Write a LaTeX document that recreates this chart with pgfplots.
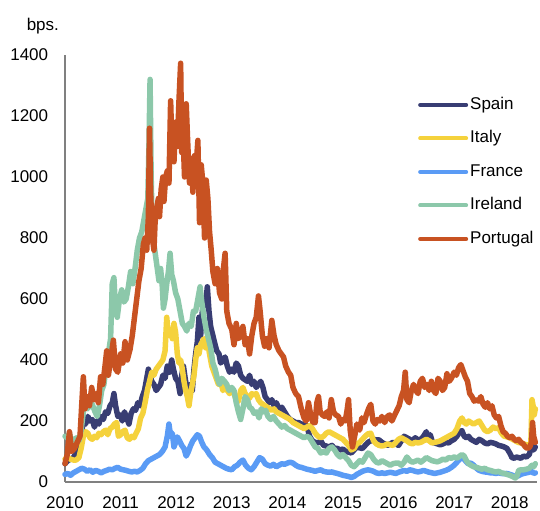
\documentclass[border=0pt]{standalone}
\usepackage{pgfplots}
\pgfplotsset{compat=1.18}
\usepackage{fontspec}
\setmainfont{Liberation Sans}
\definecolor{cSpain}{HTML}{383D73}
\definecolor{cItaly}{HTML}{F5D23C}
\definecolor{cFrance}{HTML}{5A9BF5}
\definecolor{cIreland}{HTML}{8CC8AA}
\definecolor{cPortugal}{HTML}{C85222}
\definecolor{axgray}{HTML}{808080}
\begin{document}
\fontsize{17bp}{20bp}\selectfont
\begin{tikzpicture}
\begin{axis}[
  scale only axis, width=472bp, height=427bp,
  xmin=2010, xmax=2018.49, ymin=0, ymax=1400,
  axis x line*=bottom, axis y line*=left,
  axis line style={axgray, line width=1.5bp, -},
  xtick={2010,2011,2012,2013,2014,2015,2016,2017,2018},
  ytick={0,200,400,600,800,1000,1200,1400},
  major tick length=0pt,
  /pgf/number format/assume math mode=true,
  x tick label style={/pgf/number format/1000 sep={}, yshift=-9bp},
  y tick label style={/pgf/number format/1000 sep={}, xshift=-11bp},
  ticklabel style={font=\fontsize{17bp}{20bp}\selectfont},
  clip=false,
  every axis plot/.append style={line width=5.5bp, line join=round, line cap=round},
  legend style={at={(0.7415,0.911)}, anchor=north west, draw=none, fill=none,
    font=\fontsize{17bp}{20bp}\selectfont, row sep=14bp,
    nodes={inner sep=2bp, text height=12bp, text depth=3.5bp}},
  legend cell align=left,
  legend image code/.code={\draw[#1, line width=4bp] (0bp,0bp) -- (46bp,0bp);},
]
\coordinate (SW) at (rel axis cs:0,0);
\coordinate (NE) at (rel axis cs:1,1);
\node at (rel axis cs:-0.047,1.068) {bps.};
% Spain
\addplot[cSpain] table {
2010.00 60
2010.05 70
2010.10 75
2010.15 80
2010.20 95
2010.25 115
2010.29 150
2010.33 200
2010.37 190
2010.41 215
2010.45 200
2010.49 205
2010.53 180
2010.57 200
2010.61 190
2010.65 215
2010.69 205
2010.73 230
2010.77 225
2010.81 250
2010.85 260
2010.88 290
2010.91 250
2010.95 215
2010.99 220
2011.03 200
2011.07 230
2011.11 210
2011.15 190
2011.19 225
2011.23 240
2011.27 235
2011.31 260
2011.35 250
2011.39 280
2011.43 300
2011.47 340
2011.50 370
2011.53 350
2011.56 330
2011.60 320
2011.64 300
2011.68 310
2011.72 320
2011.76 350
2011.80 340
2011.84 380
2011.88 360
2011.92 400
2011.95 370
2011.99 340
2012.03 330
2012.07 290
2012.10 350
2012.13 380
2012.17 330
2012.20 300
2012.23 280
2012.26 320
2012.29 300
2012.32 370
2012.35 420
2012.38 460
2012.41 540
2012.44 480
2012.47 560
2012.50 600
2012.53 580
2012.56 640
2012.59 560
2012.62 510
2012.66 480
2012.70 450
2012.73 430
2012.77 420
2012.80 390
2012.84 400
2012.88 410
2012.92 380
2012.96 360
2013.00 370
2013.04 360
2013.08 390
2013.12 380
2013.16 350
2013.20 340
2013.24 335
2013.28 330
2013.32 350
2013.36 320
2013.40 330
2013.44 310
2013.48 320
2013.52 330
2013.56 310
2013.60 280
2013.64 270
2013.68 260
2013.72 270
2013.76 250
2013.80 260
2013.85 240
2013.90 245
2013.95 230
2014.00 215
2014.05 205
2014.10 200
2014.15 195
2014.20 195
2014.25 190
2014.30 190
2014.35 185
2014.40 150
2014.45 135
2014.50 130
2014.55 128
2014.60 135
2014.65 120
2014.70 118
2014.75 115
2014.80 120
2014.85 110
2014.90 110
2014.95 105
2015.00 108
2015.05 100
2015.10 98
2015.15 95
2015.20 105
2015.25 115
2015.30 112
2015.35 110
2015.40 120
2015.45 130
2015.50 135
2015.55 140
2015.60 138
2015.65 138
2015.70 130
2015.75 125
2015.80 120
2015.85 125
2015.90 130
2015.95 125
2016.00 120
2016.05 135
2016.10 150
2016.15 145
2016.20 140
2016.25 135
2016.30 145
2016.35 138
2016.40 140
2016.45 150
2016.50 165
2016.53 140
2016.57 155
2016.61 130
2016.65 128
2016.70 125
2016.75 122
2016.80 125
2016.85 130
2016.90 128
2016.95 135
2017.00 140
2017.05 150
2017.10 165
2017.14 168
2017.18 150
2017.22 145
2017.26 150
2017.30 140
2017.35 135
2017.40 130
2017.45 140
2017.50 135
2017.55 128
2017.60 125
2017.65 130
2017.70 128
2017.75 125
2017.80 120
2017.85 118
2017.90 115
2017.95 110
2018.00 95
2018.04 80
2018.08 78
2018.12 82
2018.16 80
2018.20 78
2018.25 85
2018.30 82
2018.35 90
2018.40 120
2018.43 105
2018.46 115
};
\addlegendentry{Spain}
% Italy
\addplot[cItaly] table {
2010.00 75
2010.05 80
2010.10 75
2010.15 72
2010.20 72
2010.25 80
2010.29 110
2010.33 150
2010.37 165
2010.41 160
2010.45 145
2010.49 140
2010.53 150
2010.57 145
2010.61 160
2010.65 155
2010.69 165
2010.73 170
2010.77 155
2010.81 175
2010.85 180
2010.89 190
2010.93 195
2010.96 150
2011.00 155
2011.04 165
2011.08 170
2011.12 145
2011.16 140
2011.20 150
2011.24 145
2011.28 160
2011.32 175
2011.36 210
2011.40 225
2011.44 260
2011.48 300
2011.52 330
2011.56 360
2011.60 350
2011.64 370
2011.68 380
2011.72 390
2011.76 400
2011.80 430
2011.83 540
2011.86 480
2011.90 500
2011.93 470
2011.96 520
2011.99 490
2012.02 420
2012.05 390
2012.08 400
2012.11 370
2012.14 330
2012.17 300
2012.20 280
2012.23 250
2012.26 290
2012.29 320
2012.32 350
2012.35 400
2012.38 440
2012.41 420
2012.44 450
2012.47 460
2012.50 470
2012.53 440
2012.56 465
2012.60 420
2012.64 380
2012.68 360
2012.72 340
2012.76 320
2012.80 330
2012.84 300
2012.88 310
2012.92 300
2012.96 290
2013.00 300
2013.04 290
2013.08 270
2013.12 265
2013.16 300
2013.20 310
2013.24 290
2013.28 280
2013.32 275
2013.36 290
2013.40 285
2013.44 290
2013.48 270
2013.52 260
2013.56 255
2013.60 250
2013.64 245
2013.68 240
2013.72 235
2013.76 240
2013.80 230
2013.85 225
2013.90 220
2013.95 215
2014.00 210
2014.05 205
2014.10 195
2014.15 190
2014.20 185
2014.25 180
2014.30 175
2014.35 180
2014.40 185
2014.45 175
2014.50 160
2014.55 150
2014.60 145
2014.65 150
2014.70 160
2014.75 165
2014.80 160
2014.85 155
2014.90 150
2014.95 145
2015.00 140
2015.05 130
2015.10 120
2015.15 105
2015.20 110
2015.25 125
2015.30 130
2015.35 140
2015.40 150
2015.45 158
2015.50 160
2015.55 135
2015.60 125
2015.65 120
2015.70 118
2015.75 120
2015.80 125
2015.85 122
2015.90 120
2015.95 130
2016.00 140
2016.05 145
2016.10 140
2016.15 135
2016.20 128
2016.25 125
2016.30 130
2016.35 128
2016.40 130
2016.45 135
2016.50 140
2016.55 135
2016.60 128
2016.65 130
2016.70 132
2016.75 135
2016.80 140
2016.85 145
2016.90 150
2016.95 155
2017.00 160
2017.05 175
2017.10 200
2017.14 210
2017.18 195
2017.22 190
2017.26 200
2017.30 195
2017.35 190
2017.40 195
2017.45 200
2017.50 185
2017.55 170
2017.60 165
2017.65 170
2017.70 180
2017.75 175
2017.80 178
2017.85 160
2017.90 150
2017.95 148
2018.00 145
2018.05 140
2018.10 135
2018.15 130
2018.20 128
2018.25 125
2018.30 122
2018.35 120
2018.38 130
2018.40 270
2018.42 250
2018.44 220
2018.46 240
};
\addlegendentry{Italy}
% France
\addplot[cFrance] table {
2010.00 25
2010.05 28
2010.10 22
2010.15 30
2010.20 35
2010.25 40
2010.30 45
2010.35 42
2010.40 35
2010.45 40
2010.50 32
2010.55 38
2010.60 35
2010.65 30
2010.70 35
2010.75 38
2010.80 42
2010.85 40
2010.90 45
2010.95 48
2011.00 42
2011.05 40
2011.10 38
2011.15 35
2011.20 33
2011.25 35
2011.30 33
2011.35 38
2011.40 45
2011.45 60
2011.50 70
2011.55 75
2011.60 80
2011.65 85
2011.70 90
2011.75 100
2011.80 115
2011.84 150
2011.87 190
2011.90 150
2011.93 160
2011.96 115
2011.99 130
2012.02 148
2012.06 135
2012.10 120
2012.14 110
2012.18 85
2012.22 100
2012.26 120
2012.30 135
2012.34 145
2012.38 155
2012.42 150
2012.46 130
2012.50 115
2012.55 105
2012.60 90
2012.65 80
2012.70 65
2012.75 60
2012.80 55
2012.85 50
2012.90 45
2012.95 42
2013.00 40
2013.05 50
2013.10 55
2013.15 65
2013.20 72
2013.25 55
2013.30 45
2013.35 40
2013.40 50
2013.45 65
2013.50 80
2013.55 75
2013.60 60
2013.65 55
2013.70 52
2013.75 58
2013.80 50
2013.85 55
2013.90 60
2013.95 58
2014.00 62
2014.05 65
2014.10 62
2014.15 55
2014.20 50
2014.25 48
2014.30 45
2014.35 42
2014.40 40
2014.45 38
2014.50 35
2014.55 38
2014.60 40
2014.65 35
2014.70 33
2014.75 32
2014.80 33
2014.85 30
2014.90 28
2014.95 25
2015.00 22
2015.05 20
2015.10 18
2015.15 15
2015.20 18
2015.25 25
2015.30 30
2015.35 35
2015.40 38
2015.45 40
2015.50 38
2015.55 35
2015.60 30
2015.65 28
2015.70 30
2015.75 28
2015.80 30
2015.85 32
2015.90 30
2015.95 28
2016.00 32
2016.05 35
2016.10 38
2016.15 35
2016.20 40
2016.25 38
2016.30 35
2016.35 33
2016.40 35
2016.45 38
2016.50 35
2016.55 32
2016.60 30
2016.65 28
2016.70 30
2016.75 32
2016.80 35
2016.85 38
2016.90 42
2016.95 48
2017.00 55
2017.05 65
2017.10 75
2017.15 82
2017.20 70
2017.25 60
2017.30 62
2017.35 55
2017.40 45
2017.45 38
2017.50 35
2017.55 33
2017.60 32
2017.65 30
2017.70 30
2017.75 28
2017.80 30
2017.85 28
2017.90 27
2017.95 28
2018.00 25
2018.05 22
2018.10 18
2018.15 20
2018.20 25
2018.25 28
2018.30 30
2018.35 32
2018.40 35
2018.43 28
2018.46 30
};
\addlegendentry{France}
% Ireland
\addplot[cIreland] table {
2010.00 150
2010.04 145
2010.08 160
2010.12 130
2010.17 140
2010.21 145
2010.25 135
2010.29 170
2010.33 230
2010.37 260
2010.41 240
2010.45 270
2010.50 250
2010.54 230
2010.58 215
2010.62 250
2010.66 300
2010.70 320
2010.74 380
2010.78 420
2010.82 470
2010.85 650
2010.88 670
2010.91 560
2010.94 540
2010.98 600
2011.02 630
2011.06 590
2011.10 600
2011.14 640
2011.18 690
2011.22 650
2011.26 700
2011.30 760
2011.34 800
2011.38 820
2011.42 860
2011.46 900
2011.49 930
2011.51 1100
2011.53 1320
2011.55 1000
2011.57 820
2011.60 780
2011.63 740
2011.66 700
2011.69 660
2011.72 700
2011.75 640
2011.77 570
2011.80 600
2011.83 650
2011.86 690
2011.89 750
2011.92 680
2011.95 660
2011.99 620
2012.03 600
2012.07 560
2012.11 520
2012.15 510
2012.19 495
2012.23 520
2012.27 510
2012.31 560
2012.35 560
2012.39 600
2012.43 640
2012.46 590
2012.50 540
2012.54 500
2012.58 470
2012.62 440
2012.66 390
2012.70 370
2012.74 340
2012.78 320
2012.82 340
2012.87 330
2012.91 320
2012.95 300
2013.00 310
2013.04 300
2013.08 260
2013.12 230
2013.16 205
2013.20 240
2013.24 280
2013.28 270
2013.32 245
2013.36 240
2013.40 225
2013.45 230
2013.49 210
2013.53 240
2013.57 230
2013.61 235
2013.65 215
2013.70 205
2013.75 215
2013.80 200
2013.85 190
2013.90 180
2013.95 185
2014.00 175
2014.05 170
2014.10 165
2014.15 160
2014.20 155
2014.25 150
2014.30 145
2014.35 150
2014.40 145
2014.45 130
2014.50 115
2014.55 110
2014.60 95
2014.65 100
2014.70 95
2014.75 110
2014.80 115
2014.85 105
2014.90 90
2014.95 82
2015.00 90
2015.05 80
2015.10 70
2015.15 55
2015.20 50
2015.25 60
2015.30 70
2015.35 65
2015.40 80
2015.45 95
2015.50 90
2015.55 75
2015.60 65
2015.65 62
2015.70 70
2015.75 65
2015.80 60
2015.85 55
2015.90 60
2015.95 62
2016.00 62
2016.05 55
2016.10 65
2016.15 82
2016.20 70
2016.25 65
2016.30 68
2016.35 72
2016.40 65
2016.45 72
2016.50 80
2016.55 75
2016.60 70
2016.65 68
2016.70 66
2016.75 70
2016.80 75
2016.85 72
2016.90 80
2016.95 78
2017.00 82
2017.05 78
2017.10 85
2017.14 90
2017.18 85
2017.22 70
2017.26 60
2017.30 55
2017.35 50
2017.40 48
2017.45 45
2017.50 42
2017.55 45
2017.60 40
2017.65 38
2017.70 35
2017.75 33
2017.80 35
2017.85 30
2017.90 28
2017.95 25
2018.00 22
2018.05 18
2018.10 13
2018.13 20
2018.16 38
2018.20 40
2018.25 40
2018.30 42
2018.35 45
2018.40 55
2018.43 50
2018.46 60
};
\addlegendentry{Ireland}
% Portugal
\addplot[cPortugal] table {
2010.00 60
2010.04 90
2010.08 165
2010.12 100
2010.17 110
2010.22 130
2010.27 150
2010.30 250
2010.33 345
2010.36 240
2010.40 280
2010.44 250
2010.48 310
2010.52 270
2010.56 290
2010.60 260
2010.64 345
2010.68 320
2010.72 380
2010.75 430
2010.78 350
2010.82 400
2010.87 465
2010.91 370
2010.95 360
2011.00 420
2011.04 390
2011.08 460
2011.12 400
2011.17 435
2011.21 480
2011.25 540
2011.29 600
2011.33 660
2011.37 700
2011.41 780
2011.44 800
2011.47 760
2011.50 870
2011.52 1160
2011.54 950
2011.57 800
2011.60 760
2011.62 850
2011.65 900
2011.68 930
2011.70 870
2011.73 960
2011.76 1000
2011.78 920
2011.81 1000
2011.84 1020
2011.87 980
2011.90 1250
2011.93 1060
2011.96 1050
2011.99 1180
2012.02 1100
2012.05 1250
2012.08 1373
2012.10 1080
2012.12 1160
2012.15 1000
2012.18 1240
2012.21 1100
2012.24 980
2012.27 1060
2012.30 950
2012.33 1070
2012.36 1040
2012.39 1120
2012.42 850
2012.45 1040
2012.48 980
2012.51 800
2012.54 990
2012.57 930
2012.60 820
2012.63 760
2012.66 690
2012.70 650
2012.74 700
2012.78 620
2012.82 600
2012.85 700
2012.88 750
2012.91 560
2012.95 520
2013.00 500
2013.04 450
2013.08 520
2013.12 470
2013.16 480
2013.20 510
2013.24 450
2013.28 470
2013.32 420
2013.36 480
2013.40 520
2013.44 540
2013.48 610
2013.51 560
2013.55 480
2013.59 445
2013.63 470
2013.67 440
2013.72 530
2013.76 480
2013.80 450
2013.85 430
2013.89 420
2013.93 410
2013.97 380
2014.02 360
2014.06 350
2014.10 310
2014.15 290
2014.20 280
2014.25 240
2014.30 210
2014.34 200
2014.38 260
2014.42 220
2014.46 195
2014.50 195
2014.53 260
2014.56 280
2014.59 230
2014.63 220
2014.67 215
2014.71 230
2014.75 210
2014.79 270
2014.83 230
2014.87 220
2014.92 215
2014.96 190
2015.00 205
2015.04 200
2015.07 230
2015.10 270
2015.13 170
2015.17 115
2015.21 150
2015.25 190
2015.30 170
2015.34 210
2015.38 195
2015.42 220
2015.46 240
2015.50 255
2015.54 200
2015.58 190
2015.62 205
2015.66 200
2015.70 215
2015.75 195
2015.80 215
2015.84 220
2015.88 200
2015.93 220
2015.97 235
2016.01 250
2016.05 280
2016.09 300
2016.12 360
2016.15 270
2016.19 260
2016.23 300
2016.27 320
2016.31 300
2016.35 290
2016.39 330
2016.43 340
2016.47 310
2016.51 320
2016.55 300
2016.59 330
2016.63 300
2016.67 290
2016.71 340
2016.75 330
2016.79 300
2016.83 310
2016.87 355
2016.91 330
2016.95 340
2017.00 360
2017.04 350
2017.08 375
2017.12 385
2017.16 365
2017.20 345
2017.24 330
2017.28 290
2017.32 280
2017.36 265
2017.40 270
2017.44 265
2017.48 280
2017.52 255
2017.56 245
2017.60 260
2017.64 240
2017.68 250
2017.72 220
2017.76 210
2017.80 215
2017.84 185
2017.88 165
2017.92 160
2017.96 150
2018.00 145
2018.04 150
2018.08 140
2018.12 135
2018.16 140
2018.20 130
2018.24 125
2018.28 115
2018.32 110
2018.36 115
2018.39 130
2018.41 195
2018.43 150
2018.46 130
};
\addlegendentry{Portugal}
\end{axis}
\pgfresetboundingbox
\path[use as bounding box] ([xshift=-65bp,yshift=-29bp]SW) rectangle ([xshift=3bp,yshift=55bp]NE);
\end{tikzpicture}
\end{document}
